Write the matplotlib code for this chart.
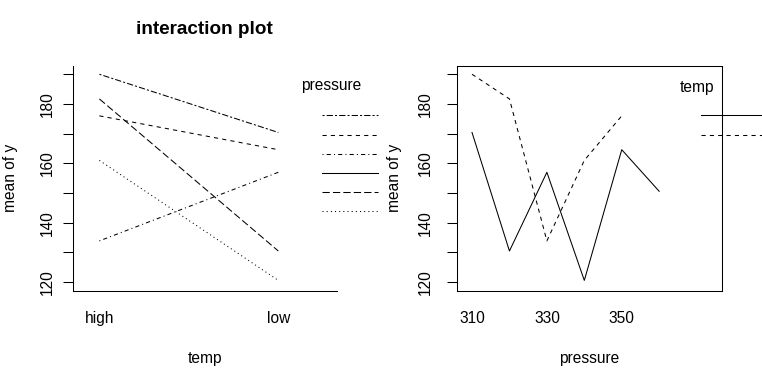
import numpy as np
import matplotlib
matplotlib.use("Agg")
import matplotlib.pyplot as plt
from matplotlib.lines import Line2D

plt.rcParams['font.family'] = ['Liberation Sans', 'DejaVu Sans']

# ---- data (cell means) ----
temp_levels = ["high", "low"]
pressure_levels = [310, 320, 330, 340, 350, 360]
mean_high = [190.0, 181.7, 133.9, 161.0, 176.0, np.nan]
mean_low = [170.4, 130.5, 157.0, 120.6, 164.6, 150.6]
y_ticks = [120, 130, 140, 150, 160, 170, 180, 190]
y_ticklabels = ["120", "", "140", "", "160", "", "180", ""]
x2_ticks = [310, 330, 350]

# R lty patterns (on/off in units of line width)
R_LTY = {1: None, 2: (4, 4), 3: (1, 3), 4: (1, 3, 4, 3), 5: (7, 3), 6: (2, 2, 6, 2)}

LW = 0.75
FS = 11.2

def style(lty):
    d = R_LTY[lty]
    if d is None:
        return dict(linestyle='-')
    return dict(linestyle=(0, d))

fig = plt.figure(figsize=(7.62, 3.80), dpi=100)
ax1 = fig.add_axes([0.0954, 0.2355, 0.3469, 0.591])
ax2 = fig.add_axes([0.5993, 0.2355, 0.3478, 0.591])

ylim = (117.2, 192.8)

# ---------- left panel: x = temp, trace = pressure ----------
npres = len(pressure_levels)
xs = np.arange(1, len(temp_levels) + 1)
ltys_p = list(range(npres, 0, -1))
for i, p in enumerate(pressure_levels):
    ax1.plot(xs, [mean_high[i], mean_low[i]], color='black', lw=LW, **style(ltys_p[i]))
ax1.set_xlim(0.851, 2.328)
ax1.set_ylim(*ylim)
ax1.set_xticks(xs)
ax1.set_xticklabels(temp_levels)
ax1.spines['top'].set_visible(False)
ax1.spines['right'].set_visible(False)

# legend: order by last value, descending (as R's interaction.plot)
last = np.array(mean_low)
order = np.argsort(-last)
leg_y = [0.782, 0.693, 0.608, 0.523, 0.439, 0.352]
for k, idx in enumerate(order):
    ax1.add_line(Line2D([0.942, 1.155], [leg_y[k]] * 2, transform=ax1.transAxes,
                        color='black', lw=LW, clip_on=False, **style(ltys_p[idx])))
ax1.text(0.977, 0.911, "pressure", transform=ax1.transAxes, ha='center', va='center',
         fontsize=FS)

ax1.text(0.5, 1.163, "interaction plot", transform=ax1.transAxes, ha='center',
         va='center', fontsize=13.6, fontweight='bold')

# ---------- right panel: x = pressure, trace = temp ----------
ntemp = len(temp_levels)
ltys_t = list(range(ntemp, 0, -1))  # high -> 2, low -> 1
series = [mean_high, mean_low]
for j in range(ntemp):
    ax2.plot(pressure_levels, series[j], color='black', lw=LW, **style(ltys_t[j]))
ax2.set_xlim(305.9, 376.7)
ax2.set_ylim(*ylim)
ax2.set_xticks(x2_ticks)
ax2.set_xticklabels([str(v) for v in x2_ticks])

leg2_y = [0.781, 0.692]
for k, j in enumerate([1, 0]):
    ax2.add_line(Line2D([0.922, 1.2], [leg2_y[k]] * 2, transform=ax2.transAxes,
                        color='black', lw=LW, clip_on=False, **style(ltys_t[j])))
ax2.text(0.907, 0.906, "temp", transform=ax2.transAxes, ha='center', va='center',
         fontsize=FS)

for ax, lab, pad in ((ax1, "temp", 6.0), (ax2, "pressure", 10.0)):
    ax.set_yticks(y_ticks)
    ax.set_yticklabels(y_ticklabels)
    ax.tick_params(axis='y', direction='out', length=7, width=0.75, labelsize=FS,
                   labelrotation=90, pad=pad)
    for t in ax.get_yticklabels():
        t.set_va('center')
    ax.tick_params(axis='x', length=0, labelsize=FS, pad=15)
    for s in ax.spines.values():
        s.set_linewidth(0.75)
    ax.set_xlabel(lab, fontsize=FS)
    ax.xaxis.label.set_va('center')
    ax.xaxis.set_label_coords(0.5, -0.302)
    ax.set_ylabel("mean of y", fontsize=FS)
    ax.yaxis.label.set_va('center')
    ax.yaxis.set_label_coords(-0.235, 0.5)

fig.savefig("out.png", dpi=100)
